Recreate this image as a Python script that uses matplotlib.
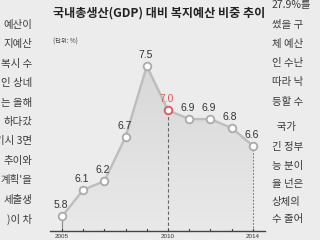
import numpy as np
import matplotlib
matplotlib.use('Agg')
import matplotlib.pyplot as plt
from matplotlib.colors import LinearSegmentedColormap

plt.rcParams['font.family'] = ['Noto Sans CJK KR', 'DejaVu Sans']

years = [2005, 2006, 2007, 2008, 2009, 2010, 2011, 2012, 2013, 2014]
ratio = [5.8, 6.1, 6.2, 6.7, 7.5, 7.0, 6.9, 6.9, 6.8, 6.6]
year_labels = [2005, 2010, 2014]
highlight = 2010

title = '국내총생산(GDP) 대비 복지예산 비중 추이'
unit = '(단위: %)'

left_lines = ['예산이', '지예산', '복시 수', '인 상네', '는 올해', '하다갔',
              '기시 3면', '추이와', '계획\'을', '세출생', ')이 차']
right_lines = ['27.9%를', '썼을 구', '체 예산', '인 수난', '따라 낙', '등할 수',
               '  국가', '긴 정부', '능 분이', '율 넌은', '상체의', '수 줄어']
right_y = [5, 25, 44, 63, 82, 102, 127, 147, 166, 184, 202, 219]

W, H = 320, 240
bg = '#ececec'
fig = plt.figure(figsize=(3.2, 2.4), dpi=100, facecolor=bg)
ax = fig.add_axes([0, 0, 1, 1])
ax.set_facecolor(bg)

# data -> pixel mapping
px_year = 21.2
px_unit = 88.5
x0 = 2005 - 62 / px_year
y_top = 7.5 + 66 / px_unit
base = y_top - 231 / px_unit
ax.axis('off')

# gradient fill under the line
grad = np.linspace(0, 1, 100).reshape(-1, 1)
cmap = LinearSegmentedColormap.from_list('g', ['#d8d8d8', '#e9e9e9'])
poly = ax.fill_between(years, ratio, base, color='none', lw=0)
im = ax.imshow(grad, cmap=cmap, aspect='auto', zorder=1,
               extent=[years[0], years[-1], base, max(ratio)])
im.set_clip_path(poly.get_paths()[0], transform=ax.transData)
ax.set_xlim(x0, x0 + W / px_year)
ax.set_ylim(y_top - H / px_unit, y_top)

# vertical guide lines
ax.plot([2005, 2005], [base, ratio[0]], color='#888888', lw=0.8, zorder=2)
i10 = years.index(highlight)
ax.plot([2010, 2010], [base, ratio[i10]], color='#666666', lw=0.8, ls=(0, (3, 2)), zorder=2)
ax.plot([2014, 2014], [base, ratio[-1]], color='#777777', lw=0.8, ls=(0, (1.5, 1.5)), zorder=2)

# axis line and ticks
ax.plot([x0 + 50 / px_year, x0 + 265 / px_year], [base, base], color='#444444', lw=1.0, zorder=3)
for yr in years:
    ax.plot([yr, yr], [base, base + 2.5 / px_unit], color='#444444', lw=0.8, zorder=3)
for yr in year_labels:
    ax.text(yr, base - 3 / px_unit, str(yr), fontsize=4.5, ha='center', va='top',
            color='#333333', family=['Liberation Sans', 'DejaVu Sans'], zorder=3)

# line and markers
ax.plot(years, ratio, color='#bdbdbd', lw=1.7, zorder=4)
for yr, v in zip(years, ratio):
    ec = '#e05555' if yr == highlight else '#aaaaaa'
    ax.plot(yr, v, 'o', ms=5.5, mfc='white', mec=ec, mew=1.3, zorder=5)
    col = '#e05555' if yr == highlight else '#333333'
    ax.annotate(f'{v:.1f}', (yr, v), xytext=(-1, 8), textcoords='offset points',
                ha='center', va='center', fontsize=7.5, color=col,
                family=['Liberation Sans', 'DejaVu Sans'], zorder=6)

# title
fig.text(53 / W, 1 - 13 / H, title, fontsize=8.7, fontweight='bold', color='#222222',
         ha='left', va='center')
fig.text(53 / W, 1 - 42 / H, unit, fontsize=4.5, color='#444444', ha='left', va='center')

# surrounding newspaper columns
for k, line in enumerate(left_lines):
    fig.text(32 / W, 1 - (25 + k * 19.4) / H, line, fontsize=7.5, color='#3a3a3a',
             ha='right', va='center')
for yy, line in zip(right_y, right_lines):
    fig.text(272 / W, 1 - yy / H, line, fontsize=7.5, color='#3a3a3a',
             ha='left', va='center')

fig.savefig('out.png', dpi=100, facecolor=bg)
